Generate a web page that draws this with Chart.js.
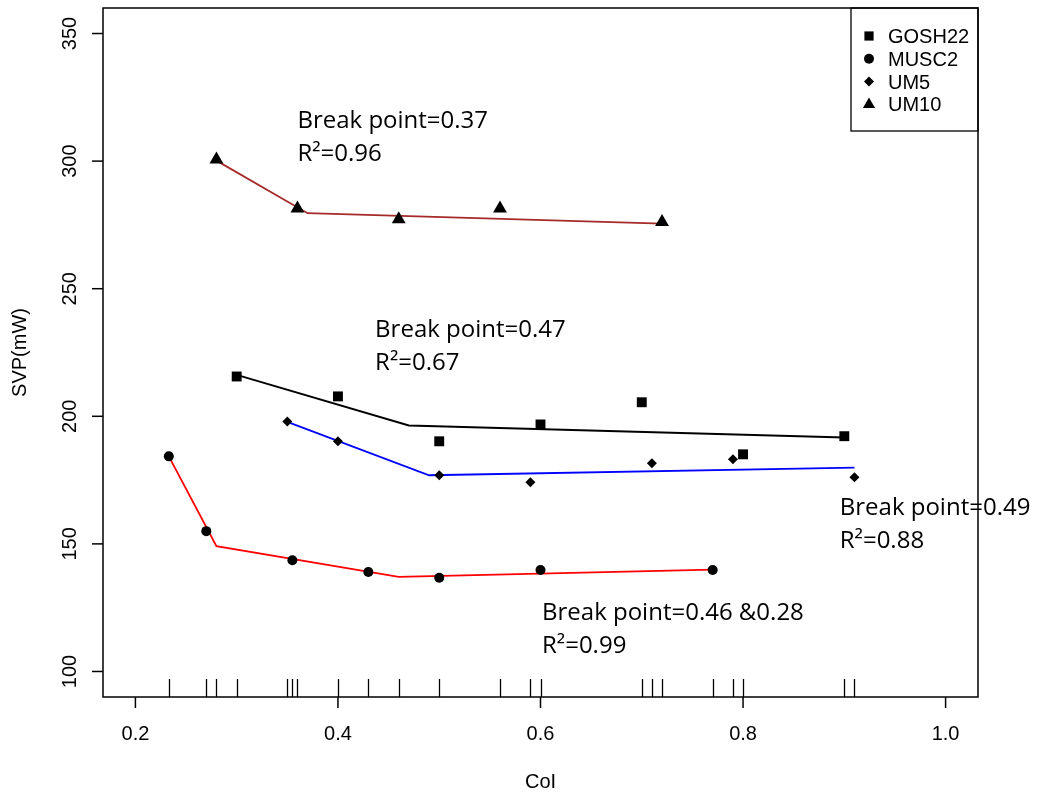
<!DOCTYPE html>
<html>
<head>
<meta charset="utf-8">
<script src="https://cdn.jsdelivr.net/npm/chart.js@4.4.1/dist/chart.umd.min.js"></script>
<style>
  html, body { margin: 0; padding: 0; background: #fff; }
  canvas { display: block; }
</style>
</head>
<body>
<canvas id="svpChart" width="1040" height="798"></canvas>
<script>
var xTicks = [0.2, 0.4, 0.6, 0.8, 1.0];
var yTicks = [100, 150, 200, 250, 300, 350];

var seriesNames = ['GOSH22', 'MUSC2', 'UM5', 'UM10'];
var seriesStyles = ['rect', 'circle', 'rectRot', 'triangle'];
var fitColors = ['#000000', '#ff0000', '#0000ff', '#a52a2a'];

// measured points
var goshX = [0.30, 0.40, 0.50, 0.60, 0.70, 0.80, 0.90];
var goshY = [215.6, 207.8, 190.2, 196.8, 205.5, 185.1, 192.2];
var muscX = [0.233, 0.27, 0.355, 0.43, 0.50, 0.60, 0.77];
var muscY = [184.3, 155.0, 143.6, 139.0, 136.7, 139.8, 139.8];
var um5X = [0.35, 0.40, 0.50, 0.59, 0.71, 0.79, 0.91];
var um5Y = [198.0, 190.2, 176.9, 174.2, 181.6, 183.2, 176.1];
var um10X = [0.28, 0.36, 0.46, 0.56, 0.72];
var um10Y = [300.6, 281.4, 277.2, 281.4, 276.1];

// segmented regression fits (ends + break points)
var goshFitX = [0.30, 0.47, 0.90];
var goshFitY = [216.2, 196.4, 191.7];
var muscFitX = [0.233, 0.28, 0.46, 0.77];
var muscFitY = [184.3, 149.1, 137.1, 139.9];
var um5FitX = [0.35, 0.49, 0.91];
var um5FitY = [197.8, 176.9, 179.9];
var um10FitX = [0.28, 0.37, 0.72];
var um10FitY = [300.2, 279.6, 275.5];

// text notes: first line anchored at (x, y) in data units
var breakLabels = ['Break point=0.37', 'Break point=0.47', 'Break point=0.49', 'Break point=0.46 &0.28'];
var r2Labels = ['R\u00b2=0.96', 'R\u00b2=0.67', 'R\u00b2=0.88', 'R\u00b2=0.99'];
var noteX = [0.36, 0.4367, 0.8955, 0.6015];
var noteY = [313.1, 230.9, 161.2, 120.1];

function toPoints(xs, ys) {
  return xs.map(function (x, i) { return { x: x, y: ys[i] }; });
}

var pointSets = [[goshX, goshY], [muscX, muscY], [um5X, um5Y], [um10X, um10Y]];
var fitSets = [[goshFitX, goshFitY], [muscFitX, muscFitY], [um5FitX, um5FitY], [um10FitX, um10FitY]];
var pointRadius = { rect: 7, circle: 5, rectRot: 5, triangle: 8 };

var datasets = [];
fitSets.forEach(function (s, i) {
  datasets.push({
    label: seriesNames[i] + ' fit',
    data: toPoints(s[0], s[1]),
    showLine: true,
    borderColor: fitColors[i],
    borderWidth: 1.8,
    pointRadius: 0,
    fill: false,
    tension: 0,
    order: 2
  });
});
pointSets.forEach(function (s, i) {
  datasets.push({
    label: seriesNames[i],
    data: toPoints(s[0], s[1]),
    showLine: false,
    pointStyle: seriesStyles[i],
    pointRadius: pointRadius[seriesStyles[i]],
    pointBackgroundColor: '#000',
    pointBorderColor: '#000',
    pointBorderWidth: 0,
    order: 1
  });
});

// every x value gets a rug tick on the bottom edge
var rugX = [];
pointSets.forEach(function (s) {
  s[0].forEach(function (x) { if (rugX.indexOf(x) < 0) rugX.push(x); });
});

var axisFont = '20px "Liberation Sans", Arial, sans-serif';
var noteFont = '24px "Open Sans", sans-serif';

function drawMarker(ctx, style, x, y, r) {
  ctx.beginPath();
  if (style === 'rect') {
    var s = r * Math.SQRT1_2;
    ctx.rect(x - s, y - s, 2 * s, 2 * s);
  } else if (style === 'circle') {
    ctx.arc(x, y, r, 0, Math.PI * 2);
  } else if (style === 'rectRot') {
    ctx.moveTo(x, y - r); ctx.lineTo(x + r, y); ctx.lineTo(x, y + r); ctx.lineTo(x - r, y);
  } else {
    ctx.moveTo(x, y - r);
    ctx.lineTo(x + r * 0.866, y + r / 2);
    ctx.lineTo(x - r * 0.866, y + r / 2);
  }
  ctx.closePath();
  ctx.fill();
}

var baseFrame = {
  id: 'baseFrame',
  afterDraw: function (chart) {
    var ctx = chart.ctx;
    var a = chart.chartArea;
    var xs = chart.scales.x;
    var ys = chart.scales.y;
    ctx.save();
    ctx.strokeStyle = '#000';
    ctx.fillStyle = '#000';

    // rug
    ctx.lineWidth = 1.3;
    rugX.forEach(function (v) {
      var px = Math.round(xs.getPixelForValue(v)) + 0.5;
      ctx.beginPath();
      ctx.moveTo(px, a.bottom);
      ctx.lineTo(px, a.bottom - 18);
      ctx.stroke();
    });

    // box
    ctx.lineWidth = 1.5;
    ctx.strokeRect(a.left, a.top, a.right - a.left, a.bottom - a.top);

    // x axis
    ctx.font = axisFont;
    ctx.textAlign = 'center';
    ctx.textBaseline = 'alphabetic';
    xTicks.forEach(function (v) {
      var px = xs.getPixelForValue(v);
      ctx.beginPath();
      ctx.moveTo(px, a.bottom);
      ctx.lineTo(px, a.bottom + 11);
      ctx.stroke();
      ctx.fillText(v.toFixed(1), px, a.bottom + 43);
    });
    ctx.fillText('CoI', (a.left + a.right) / 2, a.bottom + 91);

    // y axis, labels turned like the axis
    yTicks.forEach(function (v) {
      var py = ys.getPixelForValue(v);
      ctx.beginPath();
      ctx.moveTo(a.left, py);
      ctx.lineTo(a.left - 11, py);
      ctx.stroke();
      ctx.save();
      ctx.translate(a.left - 27, py);
      ctx.rotate(-Math.PI / 2);
      ctx.fillText(String(v), 0, 0);
      ctx.restore();
    });
    ctx.save();
    ctx.translate(26, (a.top + a.bottom) / 2);
    ctx.rotate(-Math.PI / 2);
    ctx.fillText('SVP(mW)', 0, 0);
    ctx.restore();

    // notes on the break points
    ctx.font = noteFont;
    ctx.textAlign = 'left';
    breakLabels.forEach(function (t, i) {
      var px = xs.getPixelForValue(noteX[i]);
      var py = ys.getPixelForValue(noteY[i]);
      ctx.fillText(t, px, py);
      ctx.fillText(r2Labels[i], px, py + 33);
    });

    // legend box, top right
    var lx = a.right - 127, ly = a.top;
    ctx.lineWidth = 1.3;
    ctx.strokeRect(lx, ly, 127, 123);
    ctx.font = axisFont;
    seriesNames.forEach(function (name, i) {
      var ry = ly + 28 + i * 22.8;
      var st = seriesStyles[i];
      drawMarker(ctx, st, lx + 18, ry, st === 'rect' ? 6.5 : (st === 'triangle' ? 7 : 5));
      ctx.fillText(name, lx + 37, ry + 7);
    });

    ctx.restore();
  }
};

var svpChart = new Chart(document.getElementById('svpChart'), {
  type: 'scatter',
  data: { datasets: datasets },
  options: {
    responsive: false,
    animation: false,
    layout: { padding: { left: 103, top: 7, right: 62, bottom: 101 } },
    plugins: { legend: { display: false }, tooltip: { enabled: false } },
    scales: {
      x: { type: 'linear', display: false, min: 0.168, max: 1.032 },
      y: { type: 'linear', display: false, min: 90, max: 360 }
    }
  },
  plugins: [baseFrame]
});
</script>
</body>
</html>
